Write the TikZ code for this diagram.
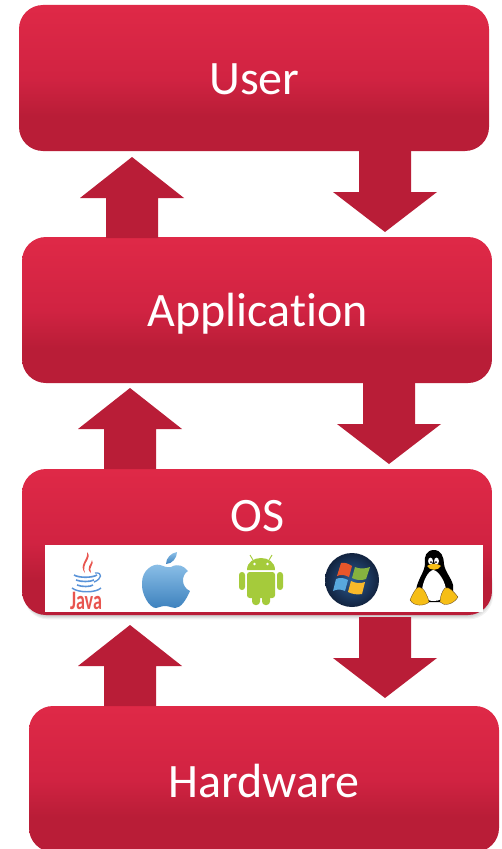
\documentclass[tikz,border=0pt]{standalone}
\usepackage{fontspec}
\setmainfont[Ligatures=NoCommon]{Carlito}
\usetikzlibrary{calc}
\definecolor{arrowred}{HTML}{B91D37}
\definecolor{boxtop}{HTML}{DF2947}
\definecolor{boxmid}{HTML}{D12342}
\definecolor{javared}{HTML}{E8554F}
\definecolor{javablue}{HTML}{5A93D8}
\definecolor{droid}{HTML}{A5CB3B}
\definecolor{tuxyellow}{HTML}{F6BE16}
\definecolor{appletop}{HTML}{8CC0E8}
\definecolor{applebot}{HTML}{3E82BE}
\definecolor{winin}{HTML}{2C5C94}
\definecolor{winout}{HTML}{12233F}
\definecolor{winred}{HTML}{E8562A}
\definecolor{wingreen}{HTML}{86B340}
\definecolor{winblue}{HTML}{58A8DE}
\definecolor{winyellow}{HTML}{F9B92A}
\pgfdeclareverticalshading{boxgrad}{100bp}{
  color(0bp)=(arrowred);
  color(25bp)=(arrowred);
  color(37bp)=(arrowred);
  color(50bp)=(boxmid);
  color(75bp)=(boxtop);
  color(100bp)=(boxtop)}
\tikzset{
  x=0.75pt,y=-0.75pt,
  redbox/.style={rounded corners=18pt,minimum width=352.5pt,minimum height=109.5pt,
    inner sep=0pt,shading=boxgrad},
  boxlabel/.style={text=white,inner sep=0pt,font=\fontsize{36pt}{40pt}\selectfont},
  blockarrow/.style={fill=arrowred,draw=none}
}
\newcommand{\arrowup}[2]{\path[blockarrow] ($(#1)+(-26,0)$) -- ($(#2)+(-26,41)$) -- ($(#2)+(-52,41)$) -- (#2) -- ($(#2)+(52,41)$) -- ($(#2)+(26,41)$) -- ($(#1)+(26,0)$) -- cycle;}
\newcommand{\arrowdown}[2]{\path[blockarrow] ($(#1)+(-26,0)$) -- ($(#2)+(-26,-40)$) -- ($(#2)+(-52,-40)$) -- (#2) -- ($(#2)+(52,-40)$) -- ($(#2)+(26,-40)$) -- ($(#1)+(26,0)$) -- cycle;}
\begin{document}
\begin{tikzpicture}
\useasboundingbox (0,0) rectangle (501,849);
\fill[white] (0,0) rectangle (501,849);
\coordinate (uaS) at (132,238); \coordinate (uaT) at (132,157);
\coordinate (daS) at (385,151); \coordinate (daT) at (385,232);
\coordinate (ubS) at (130,469); \coordinate (ubT) at (130,388);
\coordinate (dbS) at (389,383); \coordinate (dbT) at (389,464);
\coordinate (ucS) at (130,706); \coordinate (ucT) at (130,625);
\coordinate (dcS) at (385,617); \coordinate (dcT) at (385,698);
% OS soft shadow
\foreach \g in {0,1,2,3}{
  \fill[black,opacity=.05,rounded corners=18pt] (24,560) rectangle (491+\g*.7,616+\g*1.1);
}
\node[redbox] (user) at (254,78) {};
\node[redbox] (app) at (257,310) {};
\node[redbox] (os) at (257,542) {};
\node[redbox] (hw) at (264,779) {};
\node[boxlabel] (userT) at (254.5,79) {User};
\node[boxlabel] (appT) at (257.5,314) {Application};
\node[boxlabel] (osT) at (257.5,516) {OS};
\node[boxlabel] (hwT) at (264,781) {Hardware};
\arrowup{uaS}{uaT}
\arrowdown{daS}{daT}
\arrowup{ubS}{ubT}
\arrowdown{dbS}{dbT}
\arrowup{ucS}{ucT}
\arrowdown{dcS}{dcT}
% logo strip
\fill[white] (45,545) rectangle (483,612);
% Java
\fill[javared] (87,552) .. controls (93,558) and (81,563) .. (85,573) .. controls (78,565) and (89,559) .. (87,552) -- cycle;
\fill[javared] (92,560) .. controls (95,564) and (88,567) .. (91,573) .. controls (85,568) and (92,564) .. (92,560) -- cycle;
\draw[javablue,line width=1.2pt] (74,575) .. controls (79,578) and (92,578) .. (97,575);
\draw[javablue,line width=1.2pt] (76,580) .. controls (81,582) and (90,582) .. (94,580);
\draw[javablue,line width=1.2pt] (77,585) .. controls (82,587) and (90,587) .. (93,585);
\draw[javablue,line width=1pt] (95,573) .. controls (103,572) and (102,579) .. (94,582);
\draw[javablue,line width=1.1pt] (72,588) .. controls (78,593) and (96,593) .. (101,588);
\node[text=javared,inner sep=0pt,font=\bfseries\fontsize{20pt}{20pt}\selectfont,xscale=.68] (javaT) at (86,601) {Java};
% Apple
\shade[top color=appletop,bottom color=applebot]
  (171,567) .. controls (178,563) and (184,566) .. (188,571)
  .. controls (181,575) and (181,587) .. (190,591)
  .. controls (186,600) and (181,608) .. (175,608)
  .. controls (171,608) and (170,606) .. (165,606)
  .. controls (160,606) and (159,608) .. (156,608)
  .. controls (149,608) and (141,593) .. (142,583)
  .. controls (142,570) and (153,563) .. (160,565)
  .. controls (164,566) and (167,568) .. (171,567) -- cycle;
\shade[top color=appletop,bottom color=applebot]
  (166,564) .. controls (166,558) and (171,553) .. (177,552) .. controls (177,558) and (172,564) .. (166,564) -- cycle;
% Android
\fill[droid] (247,570) .. controls (247,562) and (254,558) .. (261,558) .. controls (268,558) and (275,562) .. (275,570) -- cycle;
\draw[droid,line width=.7pt] (253,560) -- (250,555) (269,560) -- (272,555);
\fill[white] (254.5,564) circle (1.3) (267.5,564) circle (1.3);
\fill[droid,rounded corners=2pt] (247,572) rectangle (275,598);
\fill[droid,rounded corners=2.2pt] (239,572) rectangle (245,590);
\fill[droid,rounded corners=2.2pt] (277,572) rectangle (283,590);
\fill[droid,rounded corners=2.6pt] (252,590) rectangle (260,605);
\fill[droid,rounded corners=2.6pt] (262,590) rectangle (270,605);
% Windows
\shade[inner color=winin,outer color=winout] (352,580) circle (27);
\fill[winred] (341,563) .. controls (345,562) and (349,564) .. (352,566) -- (349,577) .. controls (345,575) and (341,574) .. (337,576) -- cycle;
\fill[wingreen] (355,567) .. controls (359,569) and (365,569) .. (370,567) -- (366,579) .. controls (361,581) and (356,580) .. (352,578) -- cycle;
\fill[winblue] (336,579) .. controls (340,577) and (344,578) .. (348,580) -- (345,591) .. controls (341,589) and (337,589) .. (333,591) -- cycle;
\fill[winyellow] (351,581) .. controls (355,583) and (360,584) .. (365,582) -- (362,594) .. controls (357,595) and (352,594) .. (348,592) -- cycle;
% Tux
\fill[black] (434,550) .. controls (426,550) and (424,557) .. (425,563)
  .. controls (425,572) and (418,578) .. (416,590) .. controls (415,597) and (420,602) .. (424,602)
  -- (445,602) .. controls (452,600) and (454,592) .. (453,585)
  .. controls (451,577) and (445,572) .. (444,564) .. controls (444,557) and (441,550) .. (434,550) -- cycle;
\fill[white] (433,570) .. controls (438,570) and (446,582) .. (446,591)
  .. controls (445,598) and (440,601) .. (434,601) .. controls (426,601) and (422,597) .. (422,590)
  .. controls (423,581) and (428,571) .. (433,570) -- cycle;
\fill[white] (430.5,561) ellipse (2.4 and 3.4) (436.5,561) ellipse (2.4 and 3.4);
\fill[black] (431,562) circle (1) (436,562) circle (1);
\fill[tuxyellow] (427,566) .. controls (431,563) and (437,563) .. (441,566) .. controls (438,571) and (430,571) .. (427,566) -- cycle;
\fill[tuxyellow,draw=black!60!brown,line width=.2pt] (410,600) .. controls (412,595) and (416,587) .. (419,587) .. controls (424,587) and (428,597) .. (429,602) .. controls (425,606) and (414,607) .. (410,600) -- cycle;
\fill[tuxyellow,draw=black!60!brown,line width=.2pt] (458,597) .. controls (454,592) and (449,586) .. (445,588) .. controls (442,591) and (440,597) .. (440,602) .. controls (444,607) and (454,604) .. (458,597) -- cycle;
\end{tikzpicture}
\end{document}
